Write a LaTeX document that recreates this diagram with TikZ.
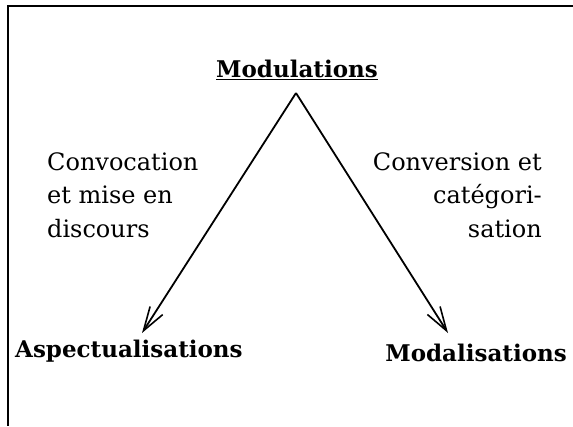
\documentclass[tikz,border=0pt]{standalone}
\usepackage{fontspec}
\setmainfont{DejaVu Serif}
\usetikzlibrary{arrows.meta}
\tikzset{
  frameline/.style={line width=1.2pt, black},
  arrowline/.style={line width=1.8pt, black, -{Straight Barb[length=24pt, width=15pt, line width=1.6pt]}},
  headlabel/.style={inner sep=0pt, font=\bfseries\fontsize{23}{28}\selectfont},
  textlabel/.style={inner sep=0pt, font=\fontsize{24}{30}\selectfont}
}
\begin{document}
\begin{tikzpicture}[x=1pt,y=-1pt]
\useasboundingbox (0,0) rectangle (573,426);
% frame (top and left edges)
\coordinate (fr1) at (573,6);
\coordinate (fr2) at (8,6);
\coordinate (fr3) at (8,426);
\draw[frameline] (fr1) -- (fr2) -- (fr3);

% titles
\node[headlabel, anchor=base] (mod) at (297,77) {\underline{Modulations}};
\node[headlabel, anchor=base west] (asp) at (15,357) {Aspectualisations};
\node[headlabel, anchor=base east] (modal) at (567,361) {Modalisations};

% arrows
\coordinate (apex) at (296,93);
\coordinate (tipL) at (142,333);
\coordinate (tipR) at (448,333);
\draw[arrowline] (apex) -- (tipL);
\draw[arrowline] (apex) -- (tipR);

% left label
\node[textlabel, anchor=base west] (l1) at (47,170) {Convocation};
\node[textlabel, anchor=base west] (l2) at (47,203.5) {et mise en};
\node[textlabel, anchor=base west] (l3) at (47,237) {discours};

% right label
\node[textlabel, anchor=base east] (r1) at (542,170) {Conversion et};
\node[textlabel, anchor=base east] (r2) at (542,203.5) {catégori-};
\node[textlabel, anchor=base east] (r3) at (542,237) {sation};
\end{tikzpicture}
\end{document}
